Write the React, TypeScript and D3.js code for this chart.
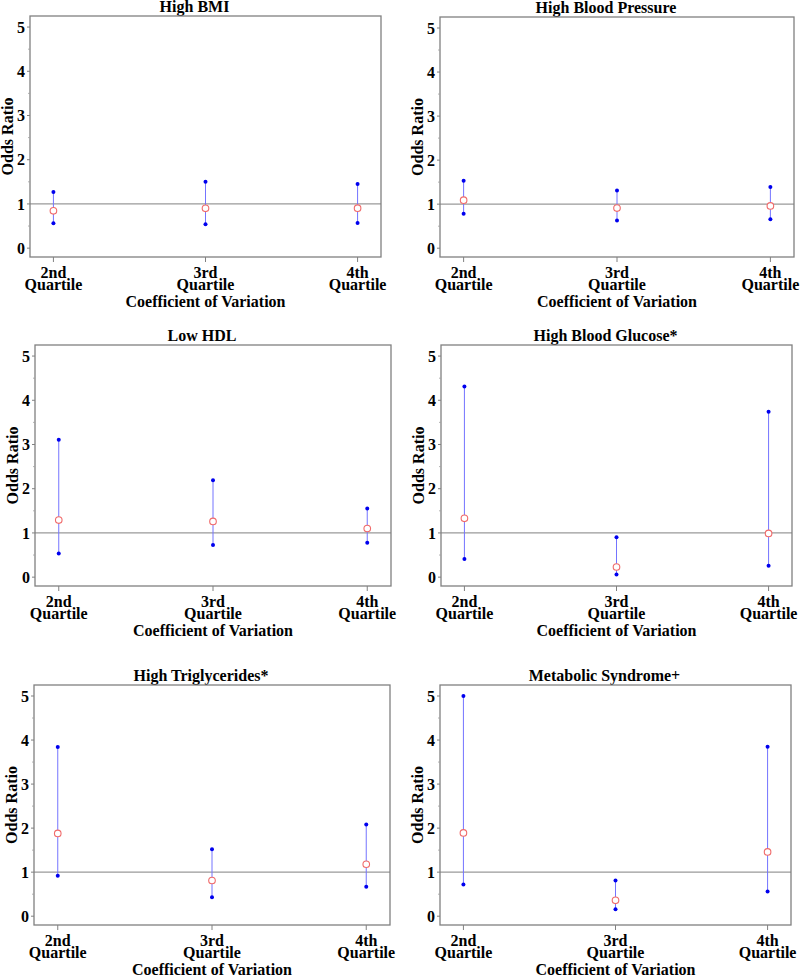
import React from "react";
import * as d3 from "d3";

const titles = [
  "High BMI",
  "High Blood Pressure",
  "Low HDL",
  "High Blood Glucose*",
  "High Triglycerides*",
  "Metabolic Syndrome+",
];
const categoryFirst = ["2nd", "3rd", "4th"];
const categorySecond = "Quartile";
const yTicks = [0, 1, 2, 3, 4, 5];
const yMinorTicks = [0.5, 1.5, 2.5, 3.5, 4.5];

const estimates = [
  [0.845, 0.9, 0.905],
  [1.09, 0.91, 0.96],
  [1.29, 1.26, 1.1],
  [1.33, 0.23, 0.99],
  [1.88, 0.81, 1.18],
  [1.89, 0.36, 1.46],
];
const lowers = [
  [0.565, 0.54, 0.57],
  [0.78, 0.63, 0.66],
  [0.535, 0.73, 0.78],
  [0.41, 0.06, 0.26],
  [0.92, 0.43, 0.67],
  [0.72, 0.16, 0.56],
];
const uppers = [
  [1.27, 1.5, 1.45],
  [1.53, 1.31, 1.39],
  [3.11, 2.19, 1.55],
  [4.31, 0.9, 3.74],
  [3.84, 1.52, 2.08],
  [5.0, 0.81, 3.85],
];

// layout of plot frames [left, right, top, bottom]
const frames = [
  [30, 381, 16, 257],
  [440, 794, 17, 257],
  [35, 391, 345, 586],
  [441, 792, 345, 586],
  [34, 390, 685, 925],
  [440, 791, 685, 925],
];

const FONT = "'Liberation Serif', 'Times New Roman', serif";

function Panel({ idx }: { idx: number }) {
  const [l, r, t, b] = frames[idx];
  const x = d3.scalePoint<string>().domain(categoryFirst).range([l, r]).padding(0.154);
  const y = d3.scaleLinear().domain([-0.2, 5.25]).range([b, t]);
  const est = estimates[idx];
  const lo = lowers[idx];
  const hi = uppers[idx];
  const cx = (l + r) / 2;
  return (
    <g>
      <text x={cx - 11} y={t - 4} textAnchor="middle" fontFamily={FONT} fontWeight="bold" fontSize={16} fill="#000">
        {titles[idx]}
      </text>
      {/* reference line */}
      <line x1={l} x2={r} y1={y(1)} y2={y(1)} stroke="#9a9a9a" strokeWidth={1.2} />
      {/* error bars */}
      {categoryFirst.map((c, i) => {
        const px = x(c)!;
        return (
          <g key={c}>
            <line x1={px} x2={px} y1={y(lo[i])} y2={y(hi[i])} stroke="#7474ff" strokeWidth={1} />
            <circle cx={px} cy={y(lo[i])} r={2} fill="#0000ee" />
            <circle cx={px} cy={y(hi[i])} r={2} fill="#0000ee" />
            <circle cx={px} cy={y(est[i])} r={3.3} fill="#fff" stroke="#f06a6a" strokeWidth={1.1} />
          </g>
        );
      })}
      {/* frame */}
      <rect x={l} y={t} width={r - l} height={b - t} fill="none" stroke="#808080" strokeWidth={1.3} />
      {/* y axis */}
      {yTicks.map((v) => (
        <g key={v}>
          <line x1={l - 3} x2={l} y1={y(v)} y2={y(v)} stroke="#808080" strokeWidth={1} />
          <text x={l - 5} y={y(v)} dy="0.36em" textAnchor="end" fontFamily={FONT} fontWeight="bold" fontSize={16} fill="#000">
            {v}
          </text>
        </g>
      ))}
      {yMinorTicks.map((v) => (
        <line key={v} x1={l - 2} x2={l} y1={y(v)} y2={y(v)} stroke="#a0a0a0" strokeWidth={0.8} />
      ))}
      <text
        transform={`translate(${l - 17},${(t + b) / 2}) rotate(-90)`}
        textAnchor="middle"
        fontFamily={FONT}
        fontWeight="bold"
        fontSize={16}
        fill="#000"
      >
        Odds Ratio
      </text>
      {/* x axis */}
      {categoryFirst.map((c) => {
        const px = x(c)!;
        return (
          <g key={c}>
            <line x1={px} x2={px} y1={b} y2={b + 5} stroke="#808080" strokeWidth={1} />
            <text x={px} y={b + 21} textAnchor="middle" fontFamily={FONT} fontWeight="bold" fontSize={16} fill="#000">
              {c}
            </text>
            <text x={px} y={b + 33} textAnchor="middle" fontFamily={FONT} fontWeight="bold" fontSize={16} fill="#000">
              {categorySecond}
            </text>
          </g>
        );
      })}
      <text x={cx} y={b + 50} textAnchor="middle" fontFamily={FONT} fontWeight="bold" fontSize={16} fill="#000">
        Coefficient of Variation
      </text>
    </g>
  );
}

export default function App() {
  return (
    <svg
      width={800}
      height={976}
      style={{ position: "absolute", left: 0, top: 0, background: "#fff" }}
    >
      <rect x={0} y={0} width={800} height={976} fill="#fff" />
      {titles.map((_, i) => (
        <Panel key={i} idx={i} />
      ))}
    </svg>
  );
}
